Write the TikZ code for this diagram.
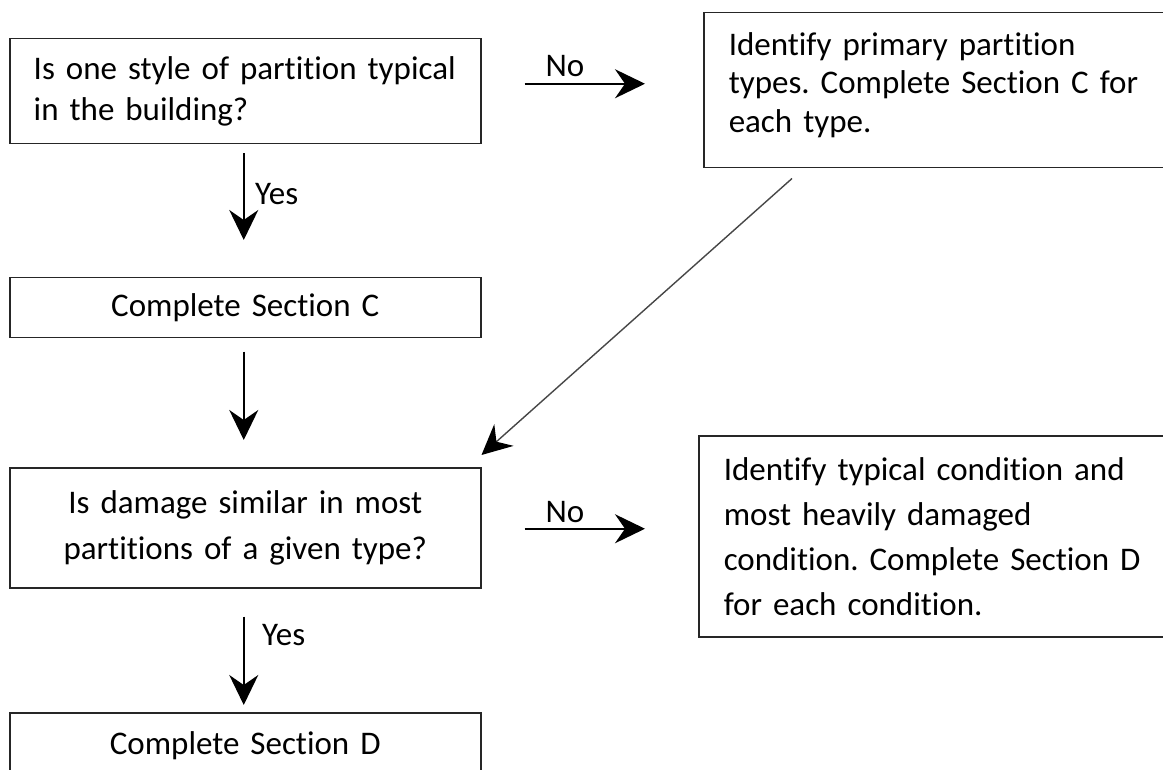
\documentclass[tikz,border=0pt]{standalone}
\usepackage{fontspec}
\setmainfont{Carlito}[Ligatures=NoCommon]
\frenchspacing
\usetikzlibrary{arrows.meta,calc}
\begin{document}
\begin{tikzpicture}[x=1pt,y=-1pt,
  box/.style={draw=black!85, line width=1.5pt, inner xsep=24pt, inner ysep=0pt,
    anchor=north west, text=black},
  arr/.style={line width=1.6pt, black, -{Stealth[length=30pt,width=29pt,inset=10pt]}},
  darr/.style={line width=1.4pt, black!72, -{Stealth[length=30pt,width=29pt,inset=10pt,color=black]}},
  lbl/.style={font=\fontsize{33}{40}\selectfont, inner sep=0pt, text=black}]
\clip (0,0) rectangle (1163,770);
\fill[white] (0,0) rectangle (1163,770);
% boxes
\node[box, minimum width=471pt, minimum height=105pt, text width=423pt, align=left,
  font=\fontsize{33}{41.5}\selectfont] (b1) at (9,38)
  {Is one style of partition typical\\in the building?};
\node[box, minimum width=497pt, minimum height=155pt, text width=447pt, align=left,
  inner xsep=25pt, font=\fontsize{33}{38.5}\selectfont] (b2) at (703,12)
  {Identify primary partition\\types. Complete Section C for\\each type.\rule[-16pt]{0pt}{16pt}};
\node[box, minimum width=471pt, minimum height=60pt, text width=423pt, align=center,
  font=\fontsize{33}{40}\selectfont] (b3) at (9,277)
  {Complete Section C};
\node[box, minimum width=471pt, minimum height=120pt, text width=423pt, align=center,
  font=\fontsize{33}{46.5}\selectfont] (b4) at (9,467)
  {Is damage similar in most\\partitions of a given type?};
\node[box, minimum width=502pt, minimum height=201pt, text width=452pt, align=left,
  inner xsep=25pt, font=\fontsize{33}{45}\selectfont] (b5) at (698,435)
  {Identify typical condition and\\most heavily damaged\\condition. Complete Section D\\for each condition.};
\node[box, minimum width=471pt, minimum height=66pt, text width=423pt, align=center,
  font=\fontsize{33}{40}\selectfont] (b6) at (9,712)
  {Complete Section D};
% connectors
\draw[arr] ([xshift=-1.5pt,yshift=-9pt]b1.south) -- ([xshift=-1.5pt,yshift=37pt]b3.north);
\draw[arr] ([xshift=43pt,yshift=7.5pt]b1.east) -- ([xshift=-58pt,yshift=6.5pt]b2.west);
\draw[arr] ([xshift=-1.5pt,yshift=-13pt]b3.south) -- ([xshift=-1.5pt,yshift=27pt]b4.north);
\draw[darr] ([xshift=89pt,yshift=-10pt]b2.south west) -- ([yshift=12pt]b4.north east);
\draw[arr] ([xshift=43pt,yshift=-1pt]b4.east) -- ([xshift=-53pt,yshift=7.5pt]b5.west);
\draw[arr] ([xshift=-1.5pt,yshift=-28pt]b4.south) -- ([xshift=-1.5pt,yshift=7pt]b6.north);
% labels
\node[lbl, anchor=base] (no1) at (565,77) {No};
\node[lbl, anchor=base] (no2) at (565,522) {No};
\node[lbl, anchor=base west] (yes1) at (255,205) {Yes};
\node[lbl, anchor=base west] (yes2) at (262,645) {Yes};
\end{tikzpicture}
\end{document}
